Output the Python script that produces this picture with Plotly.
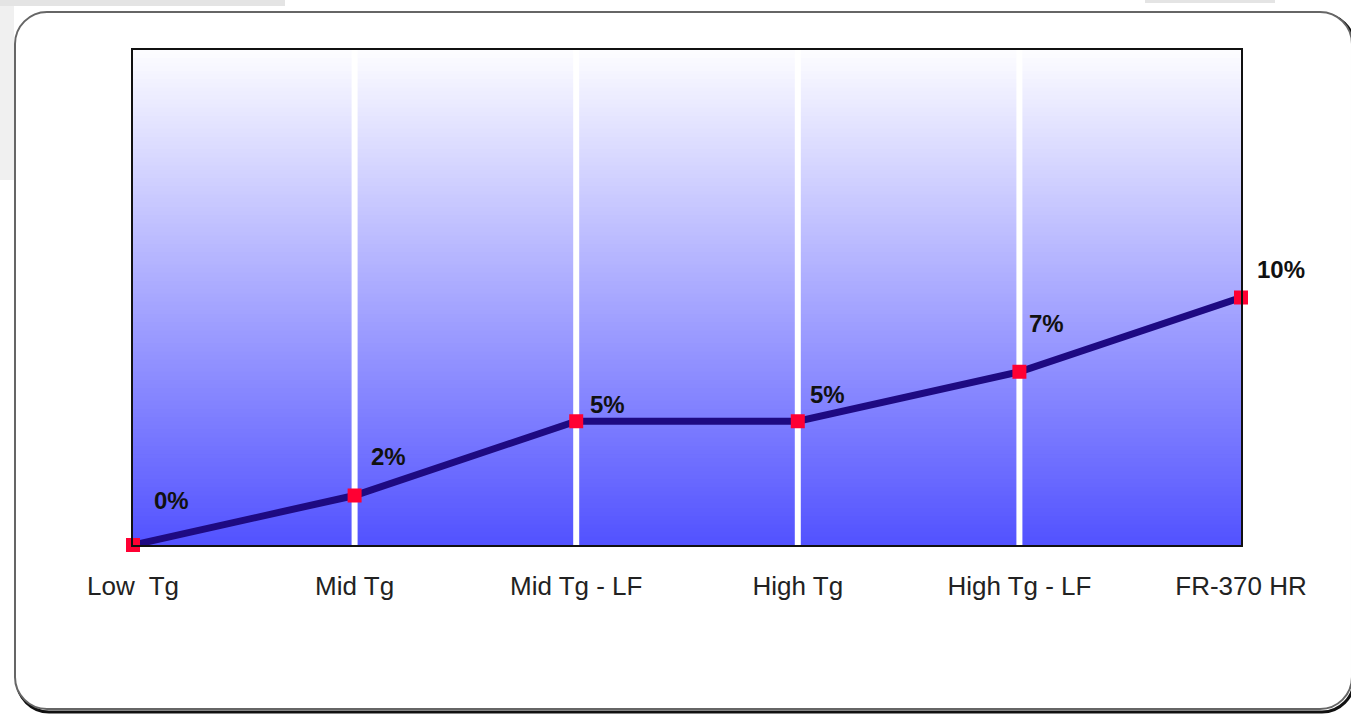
import plotly.graph_objects as go

# Material grades and their relative values (%)
categories = ["Low  Tg", "Mid Tg", "Mid Tg - LF", "High Tg", "High Tg - LF", "FR-370 HR"]
values = [0, 2, 5, 5, 7, 10]
value_labels = ["0%", "2%", "5%", "5%", "7%", "10%"]

# label offsets in pixels (right, up) from each marker
label_dx = [38, 34, 31, 30, 27, 40]
label_dy = [45, 39, 17, 27, 48, 28]

W, H = 1351, 714
L, R, T, B = 133, 1241, 50, 545   # plot area edges in pixels
Y_MAX = 20

FONT = "Liberation Sans, Arial, sans-serif"


def px_x(p):
    return (p - L) / (R - L)


def px_y(p):
    return (B - p) / (B - T)


fig = go.Figure()

# white vertical separators at the inner categories
for i in range(1, len(categories) - 1):
    fig.add_trace(go.Scatter(
        x=[categories[i], categories[i]], y=[0, Y_MAX], mode="lines",
        line=dict(color="white", width=6), hoverinfo="skip", showlegend=False))

# main series
fig.add_trace(go.Scatter(
    x=categories, y=values, mode="lines+markers",
    line=dict(color="#1e0a82", width=7),
    marker=dict(symbol="square", size=14, color="#ff0033"),
    showlegend=False, cliponaxis=False))

for c, v, t, dx, dy in zip(categories, values, value_labels, label_dx, label_dy):
    fig.add_annotation(x=c, y=v, text=t, showarrow=False, xshift=dx, yshift=dy,
                       font=dict(family=FONT, size=24, color="#111111", weight="bold"),
                       xanchor="center", yanchor="middle")

shapes = []


def rounded_rect(x0, y0, x1, y1, r):
    k = 0.45 * r
    pts = [
        ("M", [(x0 + r, y0)]),
        ("L", [(x1 - r, y0)]),
        ("C", [(x1 - k, y0), (x1, y0 + k), (x1, y0 + r)]),
        ("L", [(x1, y1 - r)]),
        ("C", [(x1, y1 - k), (x1 - k, y1), (x1 - r, y1)]),
        ("L", [(x0 + r, y1)]),
        ("C", [(x0 + k, y1), (x0, y1 - k), (x0, y1 - r)]),
        ("L", [(x0, y0 + r)]),
        ("C", [(x0, y0 + k), (x0 + k, y0), (x0 + r, y0)]),
    ]
    s = ""
    for cmd, ps in pts:
        s += cmd + " " + " ".join("%.5f,%.5f" % (px_x(a), px_y(b)) for a, b in ps) + " "
    return s + "Z"


# faint grey stripes in the page corner
shapes.append(dict(type="rect", xref="paper", yref="paper",
                   x0=px_x(0), x1=px_x(285), y0=px_y(0), y1=px_y(6),
                   fillcolor="#e4e4e4", line=dict(width=0), layer="below"))
shapes.append(dict(type="rect", xref="paper", yref="paper",
                   x0=px_x(0), x1=px_x(14), y0=px_y(6), y1=px_y(180),
                   fillcolor="#f0f0f0", line=dict(width=0), layer="below"))
shapes.append(dict(type="rect", xref="paper", yref="paper",
                   x0=px_x(1145), x1=px_x(1275), y0=px_y(0), y1=px_y(3),
                   fillcolor="#e4e4e4", line=dict(width=0), layer="below"))

# outer frame with a soft shadow along the lower edge
shapes.append(dict(type="path", xref="paper", yref="paper",
                   path=rounded_rect(17, 14, 1354, 712, 32),
                   line=dict(color="#111111", width=3), layer="below"))
shapes.append(dict(type="path", xref="paper", yref="paper",
                   path=rounded_rect(15, 12, 1352, 709, 32),
                   fillcolor="white", line=dict(color="#666666", width=2),
                   layer="below"))

# vertical gradient background of the plot area
n = 120
top_c = (253, 253, 255)
bot_c = (82, 82, 255)
for k in range(n):
    f = (k + 0.5) / n
    col = tuple(round(bot_c[j] + (top_c[j] - bot_c[j]) * f) for j in range(3))
    shapes.append(dict(type="rect", xref="paper", yref="paper",
                       x0=0, x1=1, y0=k / n, y1=(k + 1) / n + 0.002,
                       fillcolor="rgb(%d,%d,%d)" % col, line=dict(width=0),
                       layer="below"))

fig.update_layout(
    width=W, height=H,
    margin=dict(l=L, r=W - R, t=T, b=H - B),
    paper_bgcolor="white", plot_bgcolor="rgba(0,0,0,0)",
    shapes=shapes,
    showlegend=False,
    xaxis=dict(type="category", categoryorder="array", categoryarray=categories,
               range=[0, len(categories) - 1],
               showgrid=False, zeroline=False,
               showline=True, linecolor="#111111", linewidth=2, mirror=True,
               ticks="outside", ticklen=17, tickcolor="rgba(0,0,0,0)",
               tickfont=dict(family=FONT, size=26, color="#222222")),
    yaxis=dict(range=[0, Y_MAX], showgrid=False, zeroline=False,
               showline=True, linecolor="#111111", linewidth=2, mirror=True,
               showticklabels=False, ticks=""),
)

fig.write_html("out.html")
